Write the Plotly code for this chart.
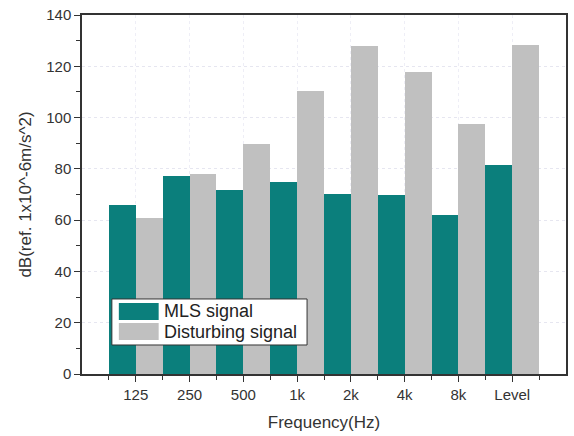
import plotly.graph_objects as go

categories = ["125", "250", "500", "1k", "2k", "4k", "8k", "Level"]
mls_signal = [66, 77.3, 71.8, 75, 70.2, 70, 62, 81.5]
disturbing_signal = [60.8, 78, 89.6, 110.5, 127.8, 117.6, 97.5, 128.2]
series_names = ["MLS signal", "Disturbing signal"]
series_colors = ["#0b7f7c", "#c0c0c0"]

x_idx = list(range(len(categories)))

fig = go.Figure()
for name, vals, col in zip(series_names, [mls_signal, disturbing_signal], series_colors):
    fig.add_trace(go.Bar(x=x_idx, y=vals, name=name,
                         marker=dict(color=col, line=dict(width=0)), showlegend=False))

FAM = "Liberation Sans, Arial, sans-serif"
tick_font = dict(family=FAM, size=15, color="#333333")
title_font = dict(family=FAM, size=17, color="#333333")

# manual legend (wide swatches like the original)
shapes = [dict(type="rect", xref="paper", yref="paper", x0=0.0617, x1=0.465, y0=0.0808, y1=0.209,
               line=dict(color="#333333", width=1), fillcolor="white", layer="above")]
sw_y = [(0.1504, 0.1978), (0.0947, 0.142)]
annotations = []
for (y0, y1), name, col in zip(sw_y, series_names, series_colors):
    shapes.append(dict(type="rect", xref="paper", yref="paper", x0=0.0761, x1=0.1584, y0=y0, y1=y1,
                       line=dict(width=0), fillcolor=col, layer="above"))
    annotations.append(dict(xref="paper", yref="paper", x=0.1646, y=(y0 + y1) / 2,
                            xanchor="left", yanchor="middle", text=name, showarrow=False,
                            font=dict(family=FAM, size=18, color="#222222")))

fig.update_layout(
    width=574, height=436,
    margin=dict(l=82, r=6, t=15, b=62),
    paper_bgcolor="white", plot_bgcolor="white",
    barmode="group", bargap=0, bargroupgap=0,
    font=tick_font,
    shapes=shapes, annotations=annotations,
    xaxis=dict(
        range=[-1, 8], tickmode="array", tickvals=x_idx, ticktext=categories,
        ticks="outside", ticklen=6, tickwidth=1.2, tickcolor="#333333",
        showline=True, linecolor="#333333", linewidth=1.5, mirror=True,
        showgrid=True, gridcolor="#eeeef6", griddash="dot", gridwidth=1,
        minor=dict(tickvals=[i - 0.5 for i in range(10)], ticks="outside", ticklen=4,
                   tickcolor="#333333", showgrid=False),
        title=dict(text="Frequency(Hz)", font=title_font, standoff=14),
        tickfont=tick_font,
        zeroline=False,
    ),
    yaxis=dict(
        range=[0, 140], tickmode="linear", tick0=0, dtick=20,
        ticks="outside", ticklen=6, tickwidth=1.2, tickcolor="#333333",
        showline=True, linecolor="#333333", linewidth=1.5, mirror=True,
        showgrid=True, gridcolor="#e6e6f0", griddash="dot", gridwidth=1,
        minor=dict(dtick=10, ticks="outside", ticklen=4, tickcolor="#333333", showgrid=False),
        title=dict(text="dB(ref. 1x10^-6m/s^2)", font=title_font, standoff=10),
        tickfont=tick_font,
        zeroline=False,
    ),
)

fig.write_html("out.html")
